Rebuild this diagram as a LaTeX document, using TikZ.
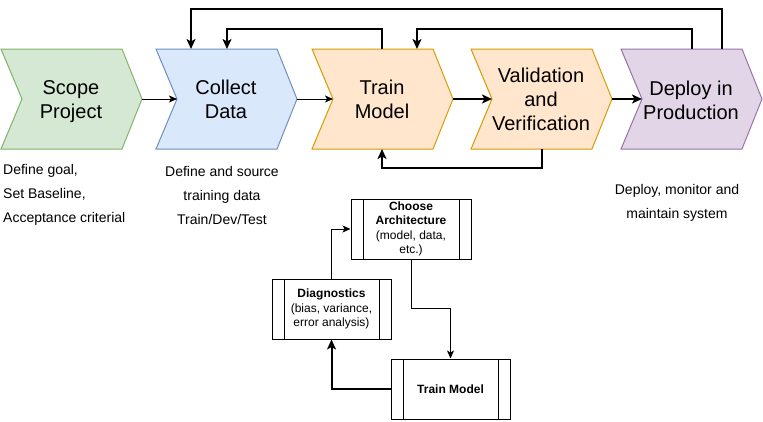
\documentclass[tikz,border=0pt]{standalone}
\usepackage{fontspec}
\setmainfont{Liberation Sans}
\usetikzlibrary{arrows.meta,calc}
\definecolor{gfill}{HTML}{D5E8D4}\definecolor{gdraw}{HTML}{82B366}
\definecolor{bfill}{HTML}{DAE8FC}\definecolor{bdraw}{HTML}{6C8EBF}
\definecolor{ofill}{HTML}{FFE6CC}\definecolor{odraw}{HTML}{D79B00}
\definecolor{pfill}{HTML}{E1D5E7}\definecolor{pdraw}{HTML}{9673A6}
\newcommand{\mychev}[6]{%
  \path[draw=#4,fill=#3,line width=1pt] (#2,49) -- ++(121,0) -- ++(20,50) -- ++(-20,50) -- ++(-121,0) -- ++(21,-50) -- cycle;
  \node[chevtext] (#1) at (#2+70,#6) {#5};
  \coordinate (#1-tip) at (#2+141,99);
  \coordinate (#1-notch) at (#2+21,99);
}
\begin{document}
\begin{tikzpicture}[x=1pt,y=-1pt,
  chevtext/.style={align=center,inner sep=0pt,font=\fontsize{20}{24}\selectfont},
  note/.style={inner sep=0pt,font=\fontsize{14}{24}\selectfont},
  thin arrow/.style={line width=1pt,-{Stealth[length=8pt,width=7pt,inset=2pt]}},
  thick arrow/.style={line width=2pt,-{Stealth[length=10pt,width=9pt,inset=2.5pt]}},
  proc/.style={draw,line width=1pt,fill=white,minimum height=60pt,align=center,inner sep=0pt,
    font=\fontsize{12}{14.5}\selectfont,
    path picture={
      \draw[line width=1pt] ([xshift=12pt]path picture bounding box.north west) -- ([xshift=12pt]path picture bounding box.south west);
      \draw[line width=1pt] ([xshift=-12pt]path picture bounding box.north east) -- ([xshift=-12pt]path picture bounding box.south east);
    }},
]
\useasboundingbox (0,0) rectangle (763,421);
\fill[white] (0,0) rectangle (763,421);

\mychev{scope}{1}{gfill}{gdraw}{Scope\\Project}{101.5}
\mychev{collect}{156}{bfill}{bdraw}{Collect\\Data}{99}
\mychev{train}{312}{ofill}{odraw}{Train\\Model}{99}
\mychev{valid}{471}{ofill}{odraw}{Validation\\and\\Verification}{99}
\mychev{deploy}{621}{pfill}{pdraw}{Deploy in\\Production}{100}

\coordinate (collect-t1) at (191,49);
\coordinate (collect-t2) at (227,49);
\coordinate (train-t1) at (382,49);
\coordinate (train-t2) at (417,49);
\coordinate (train-b) at (382,149);
\coordinate (valid-b) at (542,149);
\coordinate (deploy-t1) at (722,49);
\coordinate (deploy-t2) at (692,49);

\draw[thin arrow] (scope-tip) -- (collect-notch);
\draw[thin arrow] (collect-tip) -- (train-notch);
\draw[thick arrow] (train-tip) -- (valid-notch);
\draw[thick arrow] (valid-tip) -- (deploy-notch);

\draw[thick arrow] (deploy-t1) -- ++(0,-40) -| (collect-t1);
\draw[thick arrow] (deploy-t2) -- ++(0,-20) -| (train-t2);
\draw[thick arrow] (train-t1) -- ++(0,-20) -| (collect-t2);
\draw[thick arrow] (valid-b) -- ++(0,19) -| (train-b);

\node[note,anchor=west,align=left] (n1) at (3,195) {Define goal,\\Set Baseline,\\Acceptance criterial};
\node[note,align=center] (n2) at (222,195) {Define and source\\training data\\Train/Dev/Test};
\node[note,align=center] (n3) at (677,203) {Deploy, monitor and\\maintain system};

\node[proc,minimum width=120pt] (choose) at (411,229) {\textbf{Choose}\\\textbf{Architecture}\\(model, data,\\etc.)};
\node[proc,minimum width=119pt] (diag) at (331.5,309) {\textbf{Diagnostics}\\(bias, variance,\\error analysis)};
\node[proc,minimum width=119pt] (tm) at (450.5,389) {\textbf{Train Model}};

\draw[thin arrow] (diag.north) |- (choose.west);
\draw[thin arrow] (choose.south) -- ++(0,49) -| (tm.north);
\draw[thick arrow] (tm.west) -| (diag.south);
\end{tikzpicture}
\end{document}
